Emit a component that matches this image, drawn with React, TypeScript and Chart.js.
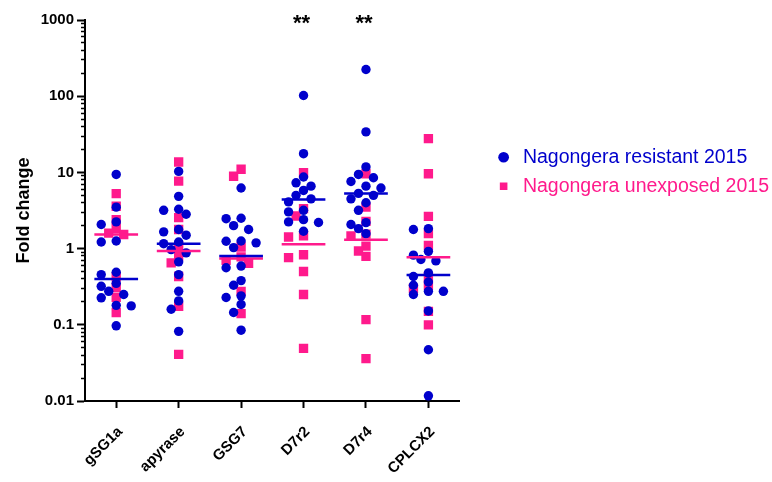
import { useEffect, useRef } from "react";
import { Chart, registerables } from "chart.js";

Chart.register(...registerables);

const categories = ["gSG1a", "apyrase", "GSG7", "D7r2", "D7r4", "CPLCX2"];

const resistant2015 = [
  [9.4, 3.5, 2.24, 2.07, 1.26, 1.22, 0.49, 0.456, 0.35, 0.32, 0.275, 0.25, 0.226, 0.18, 0.177, 0.097],
  [10.3, 4.85, 3.28, 3.18, 2.82, 1.78, 1.66, 1.5, 1.22, 1.16, 0.97, 0.88, 0.67, 0.456, 0.275, 0.206, 0.16, 0.082],
  [6.25, 2.5, 2.47, 2.0, 1.78, 1.26, 1.25, 1.19, 1.03, 0.59, 0.56, 0.38, 0.33, 0.24, 0.228, 0.185, 0.145, 0.085],
  [102, 17.6, 8.7, 7.3, 6.6, 5.8, 5.0, 4.5, 4.1, 3.18, 3.03, 2.4, 2.24, 2.2, 1.69],
  [224, 34, 11.8, 9.4, 8.5, 7.6, 6.6, 6.25, 5.3, 5.0, 4.5, 4.0, 3.18, 2.19, 2.07, 1.83, 1.57],
  [1.83, 1.78, 0.92, 0.82, 0.72, 0.69, 0.48, 0.43, 0.365, 0.33, 0.275, 0.275, 0.25, 0.152, 0.047, 0.0117],
];

const unexposed2015 = [
  [5.27, 3.6, 2.4, 1.83, 1.6, 1.53, 0.425, 0.31, 0.23, 0.145],
  [13.7, 7.7, 2.55, 1.78, 1.1, 0.8, 0.65, 0.43, 0.175, 0.041],
  [11, 8.9, 1.05, 0.78, 0.7, 0.64, 0.275, 0.14],
  [9.9, 3.35, 2.68, 1.47, 1.42, 0.83, 0.76, 0.5, 0.25, 0.049],
  [9.6, 3.5, 2.28, 1.55, 1.47, 1.08, 0.93, 0.79, 0.117, 0.036],
  [27.7, 9.6, 2.65, 1.57, 1.1, 0.43, 0.33, 0.3, 0.15, 0.1],
];

const resistantMedian = [0.4, 1.16, 0.8, 4.4, 5.27, 0.45];
const unexposedMedian = [1.53, 0.93, 0.74, 1.14, 1.31, 0.77];

const significance = ["", "", "", "**", "**", ""];

const yMajorTicks = [0.01, 0.1, 1, 10, 100, 1000];
const yTickLabels = ["0.01", "0.1", "1", "10", "100", "1000"];

const BLUE = "#0000CC";
const PINK = "#FF1A8C";
const FONT = '"Liberation Sans", Arial, sans-serif';

// approximate plot geometry used only to spread overlapping points sideways
const PX_PER_DECADE = 76.2;
const PX_PER_CAT = 62.5;
const STEP_PX = 7.5;
const MIN_DIST = 8.5;

function swarm(values: number[], cat: number) {
  const placed: { dx: number; ly: number }[] = [];
  const out: { x: number; y: number }[] = [];
  const order = values.map((_, i) => i).sort((a, b) => values[b] - values[a]);
  for (const i of order) {
    const ly = Math.log10(values[i]) * PX_PER_DECADE;
    let chosen = 0;
    for (let k = 0; k < 30; k++) {
      const m = k === 0 ? 0 : k % 2 === 1 ? -Math.ceil(k / 2) : Math.ceil(k / 2);
      const dx = m * STEP_PX;
      if (placed.every((p) => Math.hypot(p.dx - dx, p.ly - ly) >= MIN_DIST)) {
        chosen = dx;
        break;
      }
    }
    placed.push({ dx: chosen, ly });
    out.push({ x: cat + chosen / PX_PER_CAT, y: values[i] });
  }
  return out;
}

function medianSegments(meds: number[]) {
  const pts: { x: number; y: number | null }[] = [];
  meds.forEach((m, i) => {
    pts.push({ x: i - 0.35, y: m }, { x: i + 0.35, y: m }, { x: i + 0.5, y: null });
  });
  return pts;
}

const minorTicks: number[] = [];
for (let i = 0; i < yMajorTicks.length - 1; i++) {
  for (let k = 2; k <= 9; k++) minorTicks.push(k * yMajorTicks[i]);
}

const sigPlugin = {
  id: "sigStars",
  afterDatasetsDraw(chart: any) {
    const { ctx, scales } = chart;
    const x = scales.x;
    const y = scales.y;
    ctx.save();
    ctx.font = `bold 22px ${FONT}`;
    ctx.fillStyle = "#000";
    ctx.textAlign = "center";
    ctx.textBaseline = "middle";
    significance.forEach((s, i) => {
      if (!s) return;
      ctx.fillText(s, x.getPixelForValue(i) - 2, y.getPixelForValue(yMajorTicks[yMajorTicks.length - 1]) + 4);
    });
    ctx.restore();
  },
};

export default function App() {
  const ref = useRef<HTMLCanvasElement | null>(null);

  useEffect(() => {
    if (!ref.current) return;
    const blue = resistant2015.flatMap((vals, i) => swarm(vals, i));
    const pink = unexposed2015.flatMap((vals, i) => swarm(vals, i));

    const chart = new Chart(ref.current, {
      type: "scatter",
      data: {
        datasets: [
          {
            label: "Nagongera resistant 2015",
            data: blue,
            pointStyle: "circle",
            pointRadius: 4.7,
            pointBackgroundColor: BLUE,
            backgroundColor: BLUE,
            borderColor: BLUE,
            pointBorderWidth: 0,
            borderWidth: 0,
            order: 1,
          },
          {
            label: "Nagongera unexposed 2015",
            data: pink,
            pointStyle: "rect",
            pointRadius: 6.6,
            pointBackgroundColor: PINK,
            backgroundColor: PINK,
            borderColor: PINK,
            pointBorderWidth: 0,
            borderWidth: 0,
            order: 2,
          },
          {
            label: "resistant median",
            data: medianSegments(resistantMedian),
            showLine: true,
            spanGaps: false,
            pointRadius: 0,
            borderColor: BLUE,
            borderWidth: 2.5,
            order: -1,
          },
          {
            label: "unexposed median",
            data: medianSegments(unexposedMedian),
            showLine: true,
            spanGaps: false,
            pointRadius: 0,
            borderColor: PINK,
            borderWidth: 2.5,
            order: 0,
          },
        ] as any,
      },
      options: {
        animation: false,
        responsive: true,
        maintainAspectRatio: false,
        events: [],
        layout: { padding: { top: 20, right: -7, left: 0, bottom: 0 } },
        font: { family: FONT },
        plugins: {
          tooltip: { enabled: false },
          legend: {
            position: "right",
            align: "start",
            maxWidth: 320,
            title: { display: true, text: "", font: { size: 10 }, padding: { top: 106, bottom: 0 } },
            labels: {
              usePointStyle: true,
              boxWidth: 19,
              boxHeight: 7.6,
              padding: 9.5,
              font: { size: 19.5, family: FONT },
              generateLabels: (c: any) =>
                (Chart.defaults.plugins.legend.labels as any)
                  .generateLabels(c)
                  .filter((l: any) => l.datasetIndex < 2)
                  .map((l: any) => ({ ...l, fontColor: l.datasetIndex === 0 ? BLUE : PINK, lineWidth: 0 })),
            },
          },
        } as any,
        scales: {
          x: {
            type: "linear",
            min: -0.5,
            max: 5.5,
            afterBuildTicks: (s: any) => {
              s.ticks = categories.map((_, i) => ({ value: i }));
            },
            afterFit: (s: any) => {
              s.height = 81;
            },
            ticks: {
              autoSkip: false,
              minRotation: 45,
              maxRotation: 45,
              padding: 15,
              labelOffset: 4,
              color: "#000",
              font: { size: 15, weight: "bold", family: FONT },
              callback: (v: any) => categories[Math.round(Number(v))] ?? "",
            },
            grid: { drawOnChartArea: false, tickLength: 7, tickWidth: 2, tickColor: "#000" },
            border: { color: "#000", width: 2 },
          },
          y: {
            type: "logarithmic",
            position: "left",
            weight: 1,
            min: 0.01,
            max: 1000,
            afterBuildTicks: (s: any) => {
              s.ticks = yMajorTicks.map((v) => ({ value: v, major: true }));
            },
            afterFit: (s: any) => {
              s.width = 85;
            },
            ticks: {
              autoSkip: false,
              padding: 3,
              color: "#000",
              font: { size: 15, weight: "bold", family: FONT },
              callback: (v: any) => yTickLabels[yMajorTicks.indexOf(Number(v))] ?? "",
            },
            grid: { drawOnChartArea: false, tickLength: 8, tickWidth: 2, tickColor: "#000" },
            border: { color: "#000", width: 2 },
            title: {
              display: true,
              text: "Fold change",
              color: "#000",
              font: { size: 18, weight: "bold", family: FONT },
              padding: { top: 13, bottom: 0 },
            },
          },
          yMinor: {
            type: "logarithmic",
            position: "left",
            weight: 0,
            min: 0.01,
            max: 1000,
            afterBuildTicks: (s: any) => {
              s.ticks = minorTicks.map((v) => ({ value: v }));
            },
            afterFit: (s: any) => {
              s.width = 0;
            },
            ticks: { display: false },
            grid: { drawOnChartArea: false, tickLength: 4, tickWidth: 1.5, tickColor: "#000" },
            border: { display: false },
          },
          spacer: {
            type: "linear",
            position: "right",
            weight: 0,
            afterFit: (s: any) => {
              s.width = 25;
            },
            ticks: { display: false },
            grid: { display: false },
            border: { display: false },
          },
        } as any,
      },
      plugins: [sigPlugin],
    });
    return () => chart.destroy();
  }, []);

  return (
    <div style={{ position: "fixed", left: 0, top: 0, width: 772, height: 482, background: "#fff" }}>
      <canvas ref={ref} />
    </div>
  );
}
